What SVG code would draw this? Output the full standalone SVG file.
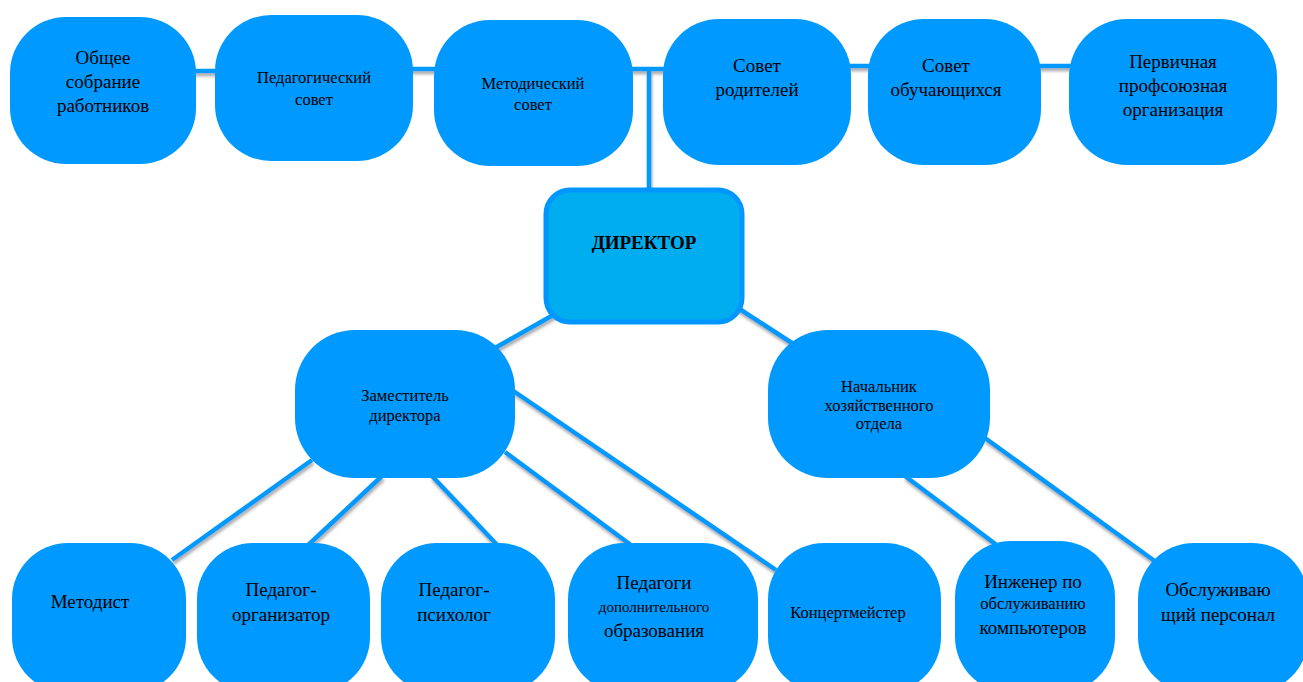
<svg xmlns="http://www.w3.org/2000/svg" width="1303" height="682" viewBox="0 0 1303 682">
<defs>
<filter id="sh" x="-10%" y="-10%" width="120%" height="130%">
<feDropShadow dx="1" dy="3" stdDeviation="1.5" flood-color="#888" flood-opacity="0.7"/>
</filter>
</defs>
<style>
.n{fill:#0099ff;}
.d{fill:#00adef;stroke:#0096ff;stroke-width:5;}
.c{stroke:#0099ff;stroke-width:4.5;fill:none;}
text{font-family:"Liberation Serif","Times New Roman",serif;fill:#000;text-anchor:middle;}
.s19{font-size:19px;}
.s16{font-size:16.5px;}
.s15{font-size:15px;}
.b{font-size:19px;font-weight:bold;}
</style>
<rect width="1303" height="682" fill="#fff"/>
<g id="connectors" filter="url(#sh)">
<line class="c" x1="190" y1="71" x2="220" y2="71"/>
<line class="c" x1="408" y1="69" x2="440" y2="69"/>
<line class="c" x1="628" y1="69" x2="668" y2="69"/>
<line class="c" x1="848" y1="66" x2="872" y2="66"/>
<line class="c" x1="1036" y1="66" x2="1074" y2="66"/>
<line class="c" x1="649" y1="69" x2="649" y2="190"/>
<line class="c" x1="562" y1="310" x2="495" y2="348"/>
<line class="c" x1="738" y1="308" x2="795" y2="345"/>
<line class="c" x1="312" y1="460" x2="172" y2="560"/>
<line class="c" x1="382" y1="476" x2="305" y2="548"/>
<line class="c" x1="432" y1="476" x2="500" y2="548"/>
<line class="c" x1="505" y1="452" x2="635" y2="548"/>
<line class="c" x1="512" y1="390" x2="776" y2="570"/>
<line class="c" x1="905" y1="476" x2="998" y2="546"/>
<line class="c" x1="985" y1="438" x2="1156" y2="562"/>
</g>
<g id="n1"><rect class="n" x="10" y="17" width="186" height="147" rx="56"/>
<text class="s19"><tspan x="103" y="64">Общее</tspan><tspan x="103" y="88">собрание</tspan><tspan x="103" y="112">работников</tspan></text></g>
<g id="n2"><rect class="n" x="215" y="15" width="198" height="146" rx="56"/>
<text class="s16"><tspan x="314" y="83">Педагогический</tspan><tspan x="314" y="105">совет</tspan></text></g>
<g id="n3"><rect class="n" x="434" y="20" width="199" height="146" rx="56"/>
<text class="s16"><tspan x="533" y="89">Методический</tspan><tspan x="533" y="110">совет</tspan></text></g>
<g id="n4"><rect class="n" x="663" y="19" width="188" height="146" rx="56"/>
<text class="s19"><tspan x="757" y="72">Совет</tspan><tspan x="757" y="96">родителей</tspan></text></g>
<g id="n5"><rect class="n" x="868" y="19" width="173" height="146" rx="56"/>
<text class="s19"><tspan x="946" y="72">Совет</tspan><tspan x="946" y="96">обучающихся</tspan></text></g>
<g id="n6"><rect class="n" x="1069" y="19" width="208" height="146" rx="58"/>
<text class="s19"><tspan x="1173" y="68">Первичная</tspan><tspan x="1173" y="92">профсоюзная</tspan><tspan x="1173" y="116">организация</tspan></text></g>
<g id="director"><rect class="d" x="546" y="190" width="196" height="132" rx="24"/>
<text class="b" x="644" y="249">ДИРЕКТОР</text></g>
<g id="zam"><rect class="n" x="295" y="330" width="220" height="148" rx="60"/>
<text class="s16"><tspan x="405" y="401">Заместитель</tspan><tspan x="405" y="421">директора</tspan></text></g>
<g id="nach"><rect class="n" x="768" y="330" width="222" height="148" rx="60"/>
<text class="s16"><tspan x="879" y="392">Начальник</tspan><tspan x="879" y="411">хозяйственного</tspan><tspan x="879" y="429">отдела</tspan></text></g>
<g id="b1"><rect class="n" x="12" y="543" width="174" height="150" rx="56"/>
<text class="s19" x="90" y="608">Методист</text></g>
<g id="b2"><rect class="n" x="197" y="543" width="173" height="150" rx="56"/>
<text class="s19"><tspan x="281" y="596">Педагог-</tspan><tspan x="281" y="621">организатор</tspan></text></g>
<g id="b3"><rect class="n" x="381" y="543" width="174" height="150" rx="56"/>
<text class="s19"><tspan x="454" y="596">Педагог-</tspan><tspan x="454" y="621">психолог</tspan></text></g>
<g id="b4"><rect class="n" x="568" y="543" width="190" height="150" rx="56"/>
<text><tspan class="s19" x="654" y="589">Педагоги</tspan><tspan class="s15" x="654" y="612">дополнительного</tspan><tspan class="s19" x="654" y="637">образования</tspan></text></g>
<g id="b5"><rect class="n" x="768" y="543" width="173" height="150" rx="56"/>
<text class="s16" x="848" y="618">Концертмейстер</text></g>
<g id="b6"><rect class="n" x="955" y="541" width="160" height="152" rx="56"/>
<text><tspan class="s19" x="1033" y="588">Инженер по</tspan><tspan class="s16" x="1033" y="609">обслуживанию</tspan><tspan class="s19" x="1033" y="634">компьютеров</tspan></text></g>
<g id="b7"><rect class="n" x="1138" y="543" width="170" height="150" rx="56"/>
<text class="s19"><tspan x="1218" y="596">Обслуживаю</tspan><tspan x="1218" y="621">щий персонал</tspan></text></g>
</svg>
